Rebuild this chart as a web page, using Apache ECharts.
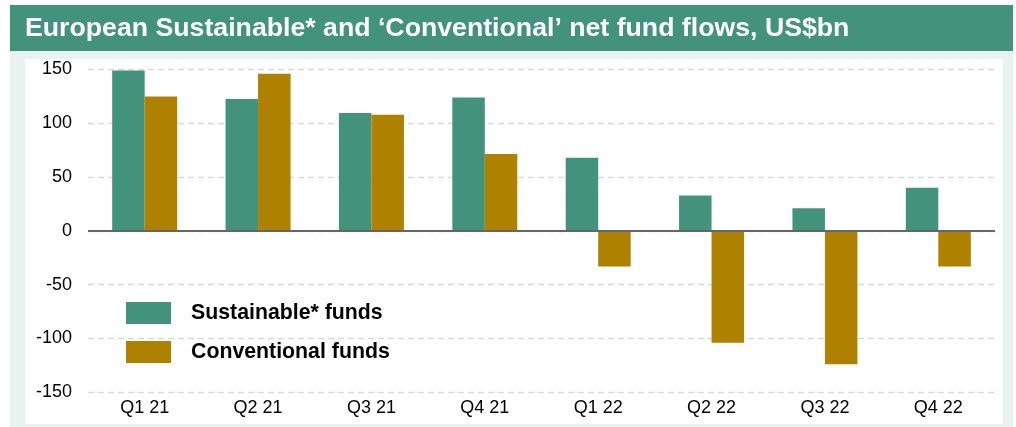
<!DOCTYPE html>
<html>
<head>
<meta charset="utf-8">
<script src="https://cdn.jsdelivr.net/npm/echarts@6/dist/echarts.min.js"></script>
<style>
html,body{margin:0;padding:0;background:#fff;}
#chart{width:1016px;height:427px;}
</style>
</head>
<body>
<div id="chart"></div>
<script>
const categories = ['Q1 21','Q2 21','Q3 21','Q4 21','Q1 22','Q2 22','Q3 22','Q4 22'];
const sustainable = [149, 122.5, 109.5, 124, 68, 33, 21, 40];
const conventional = [125, 146, 108, 71.5, -33, -104, -124, -33];
const seriesNames = ['Sustainable* funds', 'Conventional funds'];
const titleText = 'European Sustainable* and \u2018Conventional\u2019 net fund flows, US$bn';

const GREEN = '#43937c';
const GOLD = '#ae8200';
const FONT = '"Liberation Sans", Arial, sans-serif';

const chart = echarts.init(document.getElementById('chart'), null, {renderer: 'canvas'});
chart.setOption({
  animation: false,
  backgroundColor: '#ffffff',
  graphic: [
    {type: 'rect', z: -10, silent: true, shape: {x: 10, y: 5, width: 1003, height: 46}, style: {fill: GREEN}},
    {type: 'rect', z: -10, silent: true, shape: {x: 10, y: 51, width: 1003, height: 376}, style: {fill: '#e8f3ef'}},
    {type: 'rect', z: -9, silent: true, shape: {x: 25, y: 59, width: 978, height: 365}, style: {fill: '#ffffff'}},
    {type: 'text', z: 10, left: 25, top: 15, style: {text: titleText, fill: '#ffffff', font: 'bold 26.7px ' + FONT}}
  ],
  legend: {
    left: 121, top: 297, orient: 'vertical',
    itemWidth: 45, itemHeight: 22, itemGap: 17,
    icon: 'rect',
    textStyle: {fontFamily: FONT, fontSize: 21.3, fontWeight: 'bold', color: '#000', padding: [0,0,0,15]},
    data: seriesNames
  },
  grid: {left: 88, right: 21, top: 69.5, bottom: 34.7, containLabel: false},
  xAxis: {
    type: 'category', data: categories,
    axisLine: {show: false, onZero: false},
    axisTick: {show: false},
    axisLabel: {color: '#000', fontSize: 18, fontFamily: FONT, margin: 7}
  },
  yAxis: {
    type: 'value', min: -150, max: 150, interval: 50,
    axisLine: {show: false}, axisTick: {show: false},
    axisLabel: {color: '#000', fontSize: 18, fontFamily: FONT, margin: 16},
    splitLine: {lineStyle: {color: '#d9d9d9', type: [6, 4], width: 1.3}}
  },
  series: [
    {name: seriesNames[0], type: 'bar', data: sustainable, barWidth: 32.5, barGap: '0%', itemStyle: {color: GREEN},
     markLine: {silent: true, symbol: 'none', label: {show: false}, lineStyle: {color: '#666', type: 'solid', width: 2}, data: [{yAxis: 0}]}},
    {name: seriesNames[1], type: 'bar', data: conventional, barWidth: 32.5, barGap: '0%', itemStyle: {color: GOLD}}
  ]
});
</script>
</body>
</html>
